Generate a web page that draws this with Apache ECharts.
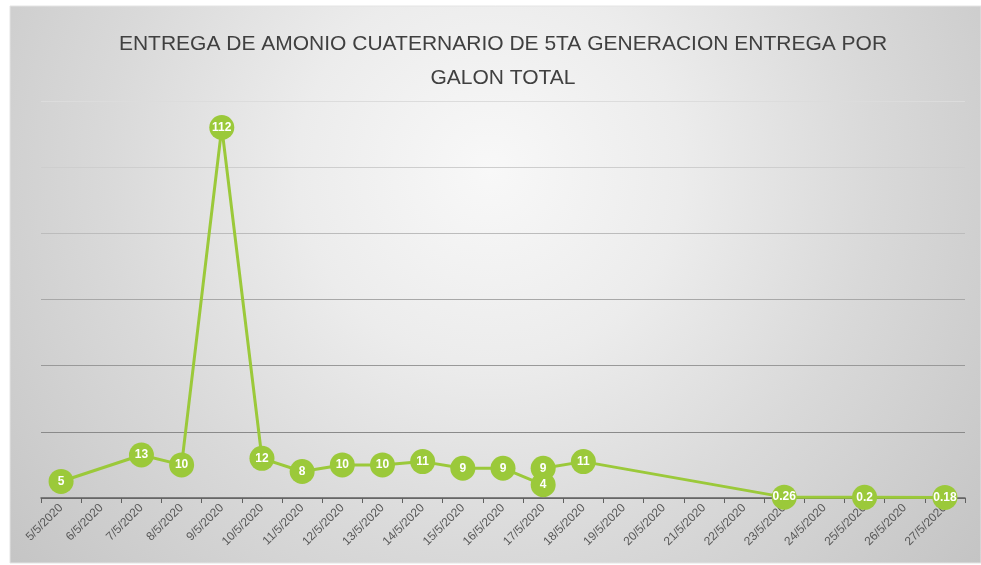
<!DOCTYPE html>
<html>
<head>
<meta charset="utf-8">
<title>Entrega de amonio cuaternario</title>
<script src="https://cdn.jsdelivr.net/npm/echarts@6/dist/echarts.min.js"></script>
<style>
  html, body { margin: 0; padding: 0; background: #ffffff; }
  #chart { width: 981px; height: 565px; }
</style>
</head>
<body>
<div id="chart"></div>
<script>
// Days shown along the horizontal axis
const categories = [
  '5/5/2020', '6/5/2020', '7/5/2020', '8/5/2020', '9/5/2020', '10/5/2020',
  '11/5/2020', '12/5/2020', '13/5/2020', '14/5/2020', '15/5/2020', '16/5/2020',
  '17/5/2020', '18/5/2020', '19/5/2020', '20/5/2020', '21/5/2020', '22/5/2020',
  '23/5/2020', '24/5/2020', '25/5/2020', '26/5/2020', '27/5/2020'
];

// Deliveries: date of each delivery and gallons delivered (17/5 has two)
const deliveryDates = [
  '5/5/2020', '7/5/2020', '8/5/2020', '9/5/2020', '10/5/2020', '11/5/2020',
  '12/5/2020', '13/5/2020', '14/5/2020', '15/5/2020', '16/5/2020',
  '17/5/2020', '17/5/2020', '18/5/2020', '23/5/2020', '25/5/2020', '27/5/2020'
];
const deliveryValues = [5, 13, 10, 112, 12, 8, 10, 10, 11, 9, 9, 4, 9, 11, 0.26, 0.2, 0.18];

// Value axis range
const yMin = 0;
const yMax = 120;
const yStep = 20;

const green = '#9bc93a';
const seriesData = deliveryDates.map((d, i) => [d, deliveryValues[i]]);

const chart = echarts.init(document.getElementById('chart'));
chart.setOption({
  animation: false,
  graphic: [{
    type: 'rect',
    z: -10,
    silent: true,
    shape: { x: 10, y: 6, width: 971, height: 557 },
    style: {
      fill: {
        type: 'radial', x: 490, y: 170, r: 640, global: true,
        colorStops: [
          { offset: 0, color: '#f8f8f8' },
          { offset: 0.3, color: '#ececec' },
          { offset: 0.6, color: '#d9d9d9' },
          { offset: 1, color: '#c3c3c3' }
        ]
      },
      stroke: '#e4e4e4',
      lineWidth: 1
    }
  }],
  title: {
    text: 'ENTREGA DE AMONIO CUATERNARIO DE 5TA GENERACION ENTREGA POR\nGALON TOTAL',
    left: 498,
    top: 22,
    textAlign: 'center',
    textStyle: {
      fontFamily: 'Liberation Sans',
      fontSize: 21,
      fontWeight: 'normal',
      color: '#404040',
      lineHeight: 34
    }
  },
  grid: { left: 41, right: 16, top: 101, bottom: 67, containLabel: false },
  xAxis: {
    type: 'category',
    data: categories,
    boundaryGap: true,
    axisLine: { show: true, lineStyle: { color: '#606060', width: 1.5 } },
    axisTick: { show: true, length: 5, alignWithLabel: false, lineStyle: { color: '#606060' } },
    axisLabel: {
      interval: 0,
      rotate: 45,
      margin: 8,
      color: '#595959',
      fontFamily: 'Liberation Sans',
      fontSize: 12
    },
    splitLine: { show: false }
  },
  yAxis: {
    type: 'value',
    min: yMin,
    max: yMax,
    interval: yStep,
    axisLine: { show: false },
    axisTick: { show: false },
    axisLabel: { show: false },
    splitLine: {
      show: true,
      lineStyle: {
        width: 1,
        color: ['#7a7a7a', '#8a8a8a', '#999999', '#a8a8a8', '#bcbcbc', '#cecece', '#dcdcdc']
      }
    }
  },
  series: [{
    type: 'line',
    data: seriesData,
    symbol: 'circle',
    symbolSize: 25,
    itemStyle: { color: green },
    lineStyle: { color: green, width: 3 },
    label: {
      show: true,
      position: 'inside',
      color: '#ffffff',
      fontFamily: 'Liberation Sans',
      fontSize: 12,
      fontWeight: 'bold'
    },
    z: 3
  }]
});
</script>
</body>
</html>
